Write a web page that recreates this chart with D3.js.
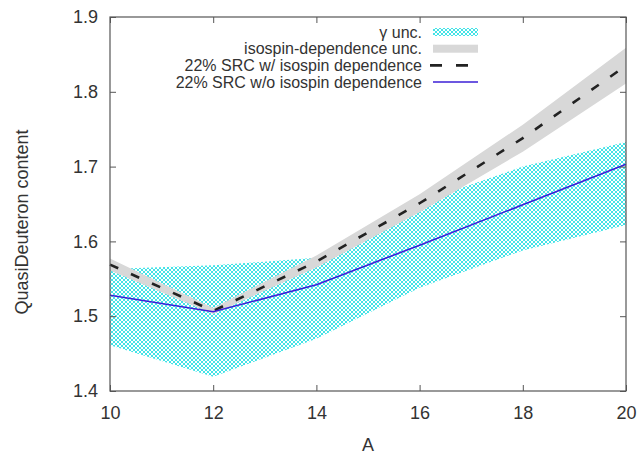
<!DOCTYPE html>
<html>
<head>
<meta charset="utf-8">
<script src="https://cdn.jsdelivr.net/npm/d3@7"></script>
<style>
  body { margin: 0; background: #fff; }
  text { font-family: "Liberation Sans", Arial, sans-serif; fill: #333; }
</style>
</head>
<body>
<div id="chart"></div>
<script>
const width = 644;
const height = 456;

// values
const massA = [10, 12, 14, 16, 18, 20];
const noIso = [1.528, 1.506, 1.542, 1.595, 1.649, 1.703];
const gammaLo = [1.461, 1.419, 1.470, 1.538, 1.588, 1.622];
const gammaHi = [1.563, 1.568, 1.578, 1.652, 1.700, 1.733];
const withIso = [1.569, 1.507, 1.573, 1.651, 1.738, 1.835];
const isoLo = [1.561, 1.503, 1.565, 1.639, 1.720, 1.811];
const isoHi = [1.577, 1.511, 1.581, 1.663, 1.756, 1.859];

const xTicks = [10, 12, 14, 16, 18, 20];
const yTicks = [1.4, 1.5, 1.6, 1.7, 1.8, 1.9];
const legendLabels = [
  "γ unc.",
  "isospin-dependence unc.",
  "22% SRC w/ isospin dependence",
  "22% SRC w/o isospin dependence",
];

const margin = { left: 110, right: 18, top: 17, bottom: 65 };

const svg = d3
  .select("#chart")
  .append("svg")
  .attr("width", width)
  .attr("height", height);

// crosshatch fill for the gamma band
const pat = svg
  .append("defs")
  .append("pattern")
  .attr("id", "hatch")
  .attr("patternUnits", "userSpaceOnUse")
  .attr("width", 4)
  .attr("height", 4);
pat.append("path")
  .attr("d", "M0,4 L4,0 M-1,1 L1,-1 M3,5 L5,3")
  .attr("stroke", "#2ee0e4")
  .attr("stroke-width", 0.9);
pat.append("path")
  .attr("d", "M0,0 L4,4 M-1,3 L1,5 M3,-1 L5,1")
  .attr("stroke", "#2ee0e4")
  .attr("stroke-width", 0.9);

const x = d3
  .scaleLinear()
  .domain([10, 20])
  .range([margin.left, width - margin.right]);

const y = d3
  .scaleLinear()
  .domain([1.4, 1.9])
  .range([height - margin.bottom, margin.top]);

const rows = massA.map((a, i) => ({
  a: a,
  no: noIso[i],
  gLo: gammaLo[i],
  gHi: gammaHi[i],
  w: withIso[i],
  iLo: isoLo[i],
  iHi: isoHi[i],
}));

// bands
const gammaArea = d3.area().x(d => x(d.a)).y0(d => y(d.gLo)).y1(d => y(d.gHi));
const isoArea = d3.area().x(d => x(d.a)).y0(d => y(d.iLo)).y1(d => y(d.iHi));

svg.append("path").datum(rows).attr("d", gammaArea).attr("fill", "url(#hatch)");
svg.append("path").datum(rows).attr("d", isoArea).attr("fill", "#d8d8d8");

// lines
svg.append("path")
  .datum(rows)
  .attr("d", d3.line().x(d => x(d.a)).y(d => y(d.w)))
  .attr("fill", "none")
  .attr("stroke", "#222")
  .attr("stroke-width", 2.6)
  .attr("stroke-dasharray", "9,14");

svg.append("path")
  .datum(rows)
  .attr("d", d3.line().x(d => x(d.a)).y(d => y(d.no)))
  .attr("fill", "none")
  .attr("stroke", "#3b1fd6")
  .attr("stroke-width", 1.6);

// axes, ticks point inward like gnuplot
const plotB = height - margin.bottom;
const plotR = width - margin.right;

const styleAxis = g => {
  g.select(".domain").remove();
  g.selectAll("line").attr("stroke", "#555");
  g.selectAll("text").attr("font-size", 18).attr("fill", "#333")
    .attr("font-family", "Liberation Sans, Arial, sans-serif");
};

svg.append("g")
  .attr("transform", `translate(0,${plotB})`)
  .call(d3.axisBottom(x).tickValues(xTicks).tickSize(-6).tickPadding(15).tickFormat(d3.format("d")))
  .call(styleAxis);

svg.append("g")
  .attr("transform", `translate(0,${margin.top})`)
  .call(d3.axisTop(x).tickValues(xTicks).tickSize(-6).tickFormat(""))
  .call(styleAxis);

svg.append("g")
  .attr("transform", `translate(${margin.left},0)`)
  .call(d3.axisLeft(y).tickValues(yTicks).tickSize(-6).tickPadding(12).tickFormat(d3.format(".1f")))
  .call(styleAxis);

svg.append("g")
  .attr("transform", `translate(${plotR},0)`)
  .call(d3.axisRight(y).tickValues(yTicks).tickSize(-6).tickFormat(""))
  .call(styleAxis);

svg.append("rect")
  .attr("x", margin.left)
  .attr("y", margin.top)
  .attr("width", plotR - margin.left)
  .attr("height", plotB - margin.top)
  .attr("fill", "none")
  .attr("stroke", "#555")
  .attr("stroke-width", 1.2);

// axis titles
svg.append("text")
  .attr("x", (margin.left + plotR) / 2)
  .attr("y", 451)
  .attr("text-anchor", "middle")
  .attr("font-size", 18)
  .text("A");

svg.append("text")
  .attr("transform", "translate(28,222) rotate(-90)")
  .attr("text-anchor", "middle")
  .attr("font-size", 18)
  .text("QuasiDeuteron content");

// legend
const legX = 422;
const legY = [32, 48.7, 65.4, 82];
const sx0 = 433;
const sx1 = 478;

legendLabels.forEach((t, i) => {
  svg.append("text")
    .attr("x", legX)
    .attr("y", legY[i])
    .attr("dy", "0.35em")
    .attr("text-anchor", "end")
    .attr("font-size", 16)
    .text(t);
});

svg.append("rect")
  .attr("x", sx0).attr("y", legY[0] - 4)
  .attr("width", sx1 - sx0).attr("height", 8)
  .attr("fill", "url(#hatch)");
svg.append("rect")
  .attr("x", sx0).attr("y", legY[1] - 4)
  .attr("width", sx1 - sx0).attr("height", 8)
  .attr("fill", "#d8d8d8");
svg.append("line")
  .attr("x1", sx0 - 3).attr("x2", sx1)
  .attr("y1", legY[2]).attr("y2", legY[2])
  .attr("stroke", "#222")
  .attr("stroke-width", 2.6)
  .attr("stroke-dasharray", "12,14");
svg.append("line")
  .attr("x1", sx0).attr("x2", sx1)
  .attr("y1", legY[3]).attr("y2", legY[3])
  .attr("stroke", "#3b1fd6")
  .attr("stroke-width", 1.6);
</script>
</body>
</html>
